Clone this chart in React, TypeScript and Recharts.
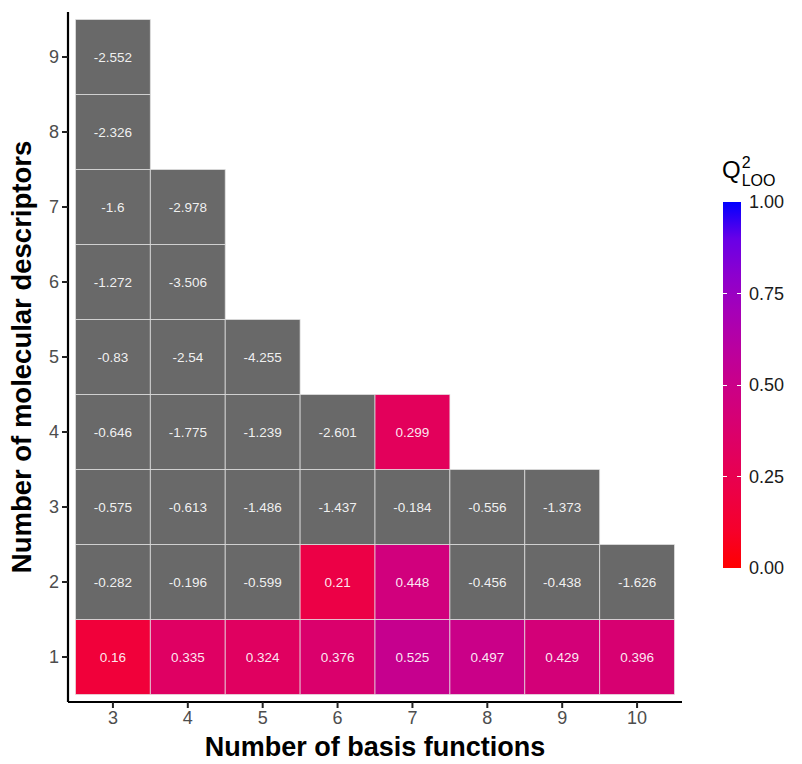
import { ScatterChart, Scatter, XAxis, YAxis } from 'recharts';

// basis functions (x) and descriptor counts (y)
const basisFunctions = [3, 4, 5, 6, 7, 8, 9, 10];
const descriptorTicks = [1, 2, 3, 4, 5, 6, 7, 8, 9];

// Q2 LOO per basis-function column, from 1 descriptor upwards
const q2Basis3 = [0.16, -0.282, -0.575, -0.646, -0.83, -1.272, -1.6, -2.326, -2.552];
const q2Basis4 = [0.335, -0.196, -0.613, -1.775, -2.54, -3.506, -2.978];
const q2Basis5 = [0.324, -0.599, -1.486, -1.239, -4.255];
const q2Basis6 = [0.376, 0.21, -1.437, -2.601];
const q2Basis7 = [0.525, 0.448, -0.184, 0.299];
const q2Basis8 = [0.497, -0.456, -0.556];
const q2Basis9 = [0.429, -0.438, -1.373];
const q2Basis10 = [0.396, -1.626];

const legendTicks = [0, 0.25, 0.5, 0.75, 1];

const columns = [q2Basis3, q2Basis4, q2Basis5, q2Basis6, q2Basis7, q2Basis8, q2Basis9, q2Basis10];

const cells = columns.flatMap((col, i) =>
  col.map((v, j) => ({ x: basisFunctions[i], y: descriptorTicks[j], v })),
);

// --- chart geometry ---
const W = 802;
const H = 764;
const PLOT_LEFT = 68;
const PLOT_RIGHT = 682;
const PLOT_TOP = 12;
const PLOT_BOTTOM = 702;
const X_DOMAIN: [number, number] = [2.4, 10.6];
const Y_DOMAIN: [number, number] = [0.4, 9.6];
const CELL_W = (PLOT_RIGHT - PLOT_LEFT) / (X_DOMAIN[1] - X_DOMAIN[0]);
const CELL_H = (PLOT_BOTTOM - PLOT_TOP) / (Y_DOMAIN[1] - Y_DOMAIN[0]);

// red -> blue gradient in Lab space (like ggplot's scale_fill_gradient)
const toLin = (c: number) => {
  c /= 255;
  return c <= 0.04045 ? c / 12.92 : Math.pow((c + 0.055) / 1.055, 2.4);
};
const fromLin = (c: number) => {
  const v = c <= 0.0031308 ? 12.92 * c : 1.055 * Math.pow(c, 1 / 2.4) - 0.055;
  return Math.round(Math.min(1, Math.max(0, v)) * 255);
};
const fLab = (t: number) => (t > 0.008856 ? Math.cbrt(t) : 7.787 * t + 16 / 116);
const fInv = (t: number) => (t * t * t > 0.008856 ? t * t * t : (t - 16 / 116) / 7.787);

function rgbToLab([r, g, b]: number[]) {
  const R = toLin(r), G = toLin(g), B = toLin(b);
  const X = (0.4124 * R + 0.3576 * G + 0.1805 * B) / 0.95047;
  const Y = 0.2126 * R + 0.7152 * G + 0.0722 * B;
  const Z = (0.0193 * R + 0.1192 * G + 0.9505 * B) / 1.08883;
  return [116 * fLab(Y) - 16, 500 * (fLab(X) - fLab(Y)), 200 * (fLab(Y) - fLab(Z))];
}

function labToHex([L, a, b]: number[]) {
  const fy = (L + 16) / 116;
  const fx = fy + a / 500;
  const fz = fy - b / 200;
  const X = fInv(fx) * 0.95047;
  const Y = fInv(fy);
  const Z = fInv(fz) * 1.08883;
  const r = 3.2406 * X - 1.5372 * Y - 0.4986 * Z;
  const g = -0.9689 * X + 1.8758 * Y + 0.0415 * Z;
  const bb = 0.0557 * X - 0.204 * Y + 1.057 * Z;
  return '#' + [r, g, bb].map((c) => fromLin(c).toString(16).padStart(2, '0')).join('');
}

const LOW = rgbToLab([255, 0, 0]);
const HIGH = rgbToLab([0, 0, 255]);

function fillFor(v: number) {
  if (v < 0 || v > 1) return '#696969';
  return labToHex(LOW.map((l, i) => l + (HIGH[i] - l) * v));
}

const gradientStops = Array.from({ length: 11 }, (_, i) => `${fillFor(1 - i / 10)} ${i * 10}%`).join(', ');

const HeatCell = (props: any) => {
  const { cx, cy, payload } = props;
  if (cx == null || cy == null) return null;
  return (
    <g>
      <rect
        x={cx - CELL_W / 2}
        y={cy - CELL_H / 2}
        width={CELL_W}
        height={CELL_H}
        fill={fillFor(payload.v)}
        stroke="#e6e6e6"
        strokeOpacity={0.7}
        strokeWidth={1}
      />
      <text
        x={cx}
        y={cy}
        textAnchor="middle"
        dominantBaseline="central"
        fill="#ffffff"
        fillOpacity={0.92}
        fontSize={13.5}
        fontFamily="Liberation Sans, Arial, sans-serif"
      >
        {payload.v}
      </text>
    </g>
  );
};

const BAR_TOP = 202;
const BAR_BOTTOM = 568;

export default function App() {
  return (
    <div
      style={{
        position: 'absolute',
        left: 0,
        top: 0,
        width: W,
        height: H,
        background: '#ffffff',
        fontFamily: 'Liberation Sans, Arial, sans-serif',
      }}
    >
      <ScatterChart
        width={W}
        height={H}
        margin={{ top: PLOT_TOP, right: W - PLOT_RIGHT, left: PLOT_LEFT - 40, bottom: H - PLOT_BOTTOM - 30 }}
      >
        <XAxis
          type="number"
          dataKey="x"
          domain={X_DOMAIN}
          ticks={basisFunctions}
          allowDataOverflow
          height={30}
          axisLine={{ stroke: '#000000', strokeWidth: 2.2 }}
          tickLine={{ stroke: '#222222', strokeWidth: 2 }}
          tickSize={6}
          tickMargin={3}
          tick={{ fill: '#4d4d4d', fontSize: 18 }}
        />
        <YAxis
          type="number"
          dataKey="y"
          domain={Y_DOMAIN}
          ticks={descriptorTicks}
          allowDataOverflow
          width={40}
          axisLine={{ stroke: '#000000', strokeWidth: 2.2 }}
          tickLine={{ stroke: '#222222', strokeWidth: 2 }}
          tickSize={6}
          tickMargin={3}
          tick={{ fill: '#4d4d4d', fontSize: 18 }}
        />
        <Scatter data={cells} shape={HeatCell} isAnimationActive={false} />
      </ScatterChart>

      {/* axis titles */}
      <div
        style={{
          position: 'absolute',
          left: PLOT_LEFT,
          width: PLOT_RIGHT - PLOT_LEFT,
          top: 731,
          textAlign: 'center',
          fontWeight: 'bold',
          fontSize: 27,
          lineHeight: '32px',
          color: '#000',
        }}
      >
        Number of basis functions
      </div>
      <div
        style={{
          position: 'absolute',
          left: 22,
          top: 357,
          transform: 'translate(-50%, -50%) rotate(-90deg)',
          whiteSpace: 'nowrap',
          fontWeight: 'bold',
          fontSize: 27.5,
          lineHeight: '32px',
          color: '#000',
        }}
      >
        Number of molecular descriptors
      </div>

      {/* colour bar legend */}
      <div style={{ position: 'absolute', left: 722, top: 156, fontSize: 24, color: '#000', whiteSpace: 'nowrap' }}>
        Q
        <span style={{ position: 'relative', fontSize: 16 }}>
          <span style={{ position: 'absolute', left: 1, top: -10 }}>2</span>
          <span style={{ position: 'relative', left: 1, top: 8 }}>LOO</span>
        </span>
      </div>
      <div
        style={{
          position: 'absolute',
          left: 723,
          top: BAR_TOP,
          width: 18,
          height: BAR_BOTTOM - BAR_TOP,
          background: `linear-gradient(to bottom, ${gradientStops})`,
        }}
      />
      {legendTicks.map((t) => {
        const y = BAR_BOTTOM - t * (BAR_BOTTOM - BAR_TOP);
        return (
          <div key={t}>
            {t > 0 && t < 1 && (
              <>
                <div style={{ position: 'absolute', left: 723, top: y - 0.5, width: 4, height: 1, background: '#ffffff' }} />
                <div style={{ position: 'absolute', left: 737, top: y - 0.5, width: 4, height: 1, background: '#ffffff' }} />
              </>
            )}
            <div
              style={{
                position: 'absolute',
                left: 749,
                top: y - 11,
                fontSize: 18,
                lineHeight: '22px',
                color: '#1a1a1a',
              }}
            >
              {t.toFixed(2)}
            </div>
          </div>
        );
      })}
    </div>
  );
}
